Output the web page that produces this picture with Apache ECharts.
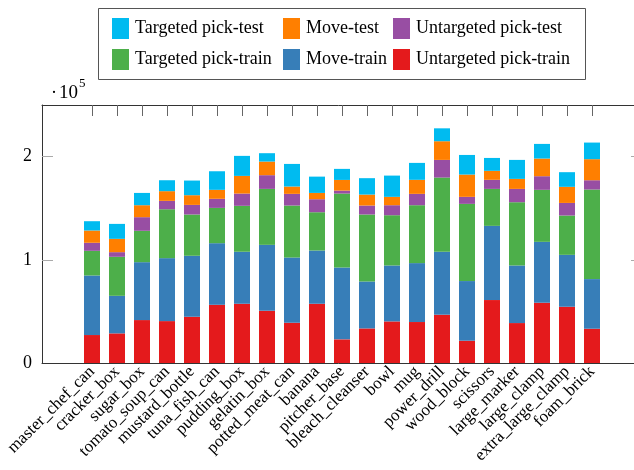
<!DOCTYPE html>
<html>
<head>
<meta charset="utf-8">
<script src="https://cdn.jsdelivr.net/npm/echarts@6/dist/echarts.min.js"></script>
<style>
  html, body { margin: 0; padding: 0; background: #fff; }
  #chart { width: 634px; height: 470px; }
</style>
</head>
<body>
<div id="chart"></div>
<script>
// YCB objects on the x axis
const categories = [
  'master_chef_can', 'cracker_box', 'sugar_box', 'tomato_soup_can', 'mustard_bottle',
  'tuna_fish_can', 'pudding_box', 'gelatin_box', 'potted_meat_can', 'banana',
  'pitcher_base', 'bleach_cleanser', 'bowl', 'mug', 'power_drill', 'wood_block',
  'scissors', 'large_marker', 'large_clamp', 'extra_large_clamp', 'foam_brick'
];

// Sample counts per object, one array per task split (stacked bottom to top)
const untargetedPickTrain = [27100, 28700, 41600, 40600, 44800, 56400, 57400, 50600, 39000, 57400, 22900, 33500, 40300, 39700, 46800, 21600, 61000, 38700, 58400, 54500, 33200];
const moveTrain           = [57700, 36400, 56100, 61000, 59100, 59700, 50400, 63900, 63200, 51600, 69600, 45500, 54200, 57100, 61000, 57800, 71900, 55800, 59000, 50300, 48100];
const targetedPickTrain   = [23900, 37800, 30400, 47400, 40000, 34200, 44500, 54200, 50400, 37100, 71700, 64900, 48700, 56100, 71900, 74800, 35800, 61300, 50400, 38100, 86800];
const untargetedPickTest  = [7800, 4500, 13200, 8100, 9300, 8800, 11900, 13300, 11300, 12600, 2900, 8700, 9700, 11000, 17100, 6800, 8800, 12900, 13200, 12200, 9000];
const moveTest            = [11900, 12900, 11600, 9400, 9400, 8700, 17100, 13200, 7100, 6100, 10300, 10600, 8100, 13600, 18100, 21600, 8700, 9700, 17100, 15600, 20400];
const targetedPickTest    = [9000, 14500, 11900, 10600, 14200, 18000, 19400, 8100, 21900, 15800, 10700, 15900, 20600, 16400, 12500, 19000, 12500, 18400, 14200, 14200, 16100];

// y tick values
const yTicks = [0, 100000, 200000];

const serif = 'Liberation Serif';

// Two empty slots on each side of the objects leave room at the plot edges
const PAD = 2;
const axisSlots = ['\u200b1', '\u200b2'].concat(categories, ['\u200b3', '\u200b4']);
const isObject = idx => idx >= PAD && idx < PAD + categories.length;
const padded = arr => [null, null].concat(arr, [null, null]);

const seriesDefs = [
  { name: 'Untargeted pick-train', data: untargetedPickTrain, color: '#e41a1c' },
  { name: 'Move-train',            data: moveTrain,           color: '#377eb8' },
  { name: 'Targeted pick-train',   data: targetedPickTrain,   color: '#4daf4a' },
  { name: 'Untargeted pick-test',  data: untargetedPickTest,  color: '#984ea3' },
  { name: 'Move-test',             data: moveTest,            color: '#ff7f00' },
  { name: 'Targeted pick-test',    data: targetedPickTest,    color: '#00bbf0' }
];

const legendCommon = {
  orient: 'vertical',
  top: 13,
  itemWidth: 17,
  itemHeight: 21,
  itemGap: 10,
  icon: 'rect',
  textStyle: { fontFamily: serif, fontSize: 18, color: '#000', padding: [0, 0, 0, 1] }
};

const chart = echarts.init(document.getElementById('chart'), null, { renderer: 'canvas' });

chart.setOption({
  animation: false,
  backgroundColor: '#fff',
  grid: { left: 42, top: 105, width: 600, height: 258, containLabel: false, outerBoundsMode: 'none' },
  legend: [
    Object.assign({ left: 107, data: ['Targeted pick-test', 'Targeted pick-train'] }, legendCommon),
    Object.assign({ left: 278, data: ['Move-test', 'Move-train'] }, legendCommon),
    Object.assign({ left: 388, data: ['Untargeted pick-test', 'Untargeted pick-train'] }, legendCommon)
  ],
  xAxis: [
    {
      type: 'category', position: 'bottom', data: axisSlots, boundaryGap: false, z: 5,
      axisLine: { show: true, onZero: false, lineStyle: { color: '#333', width: 1 } },
      axisTick: { show: false },
      splitLine: { show: false },
      axisLabel: {
        interval: idx => isObject(idx),
        hideOverlap: false,
        rotate: 45, margin: 6,
        fontFamily: serif, fontSize: 17, color: '#000'
      }
    },
    {
      type: 'category', position: 'top', data: axisSlots, boundaryGap: false,
      axisLine: { show: true, onZero: false, lineStyle: { color: '#333', width: 1 } },
      axisTick: { show: true, inside: true, length: 11, interval: idx => isObject(idx), lineStyle: { color: '#666' } },
      splitLine: { show: false },
      axisLabel: { show: false }
    }
  ],
  yAxis: [
    {
      type: 'value', position: 'left', min: 0, max: 250000,
      axisLine: { show: true, onZero: false, lineStyle: { color: '#333', width: 1 } },
      axisTick: { show: true, inside: true, length: 11, customValues: [100000, 200000], lineStyle: { color: '#aaa' } },
      splitLine: { show: false },
      axisLabel: {
        customValues: yTicks,
        formatter: v => String(v / 100000),
        margin: 10, fontFamily: serif, fontSize: 18, color: '#000'
      }
    },
    {
      type: 'value', position: 'right', min: 0, max: 250000,
      axisLine: { show: true, onZero: false, lineStyle: { color: '#333', width: 1 } },
      axisTick: { show: true, inside: true, length: 11, customValues: [100000, 200000], lineStyle: { color: '#aaa' } },
      splitLine: { show: false },
      axisLabel: { show: false }
    }
  ],
  series: seriesDefs.map(s => ({
    name: s.name,
    type: 'bar',
    stack: 'total',
    barWidth: 16,
    xAxisIndex: 0,
    yAxisIndex: 0,
    itemStyle: { color: s.color },
    data: padded(s.data)
  })),
  graphic: [
    {
      type: 'rect', silent: true,
      shape: { x: 98.5, y: 8.5, width: 487, height: 71 },
      style: { fill: 'none', stroke: '#555', lineWidth: 1 }
    },
    {
      type: 'text', silent: true, x: 51, y: 93,
      style: { text: '\u00b7', font: '18px "Liberation Serif"', fill: '#000', verticalAlign: 'middle', align: 'left' }
    },
    {
      type: 'text', silent: true, x: 59, y: 93,
      style: { text: '10', font: '19px "Liberation Serif"', fill: '#000', verticalAlign: 'middle', align: 'left' }
    },
    {
      type: 'text', silent: true, x: 79, y: 84,
      style: { text: '5', font: '13px "Liberation Serif"', fill: '#000', verticalAlign: 'middle', align: 'left' }
    }
  ]
});
</script>
</body>
</html>
